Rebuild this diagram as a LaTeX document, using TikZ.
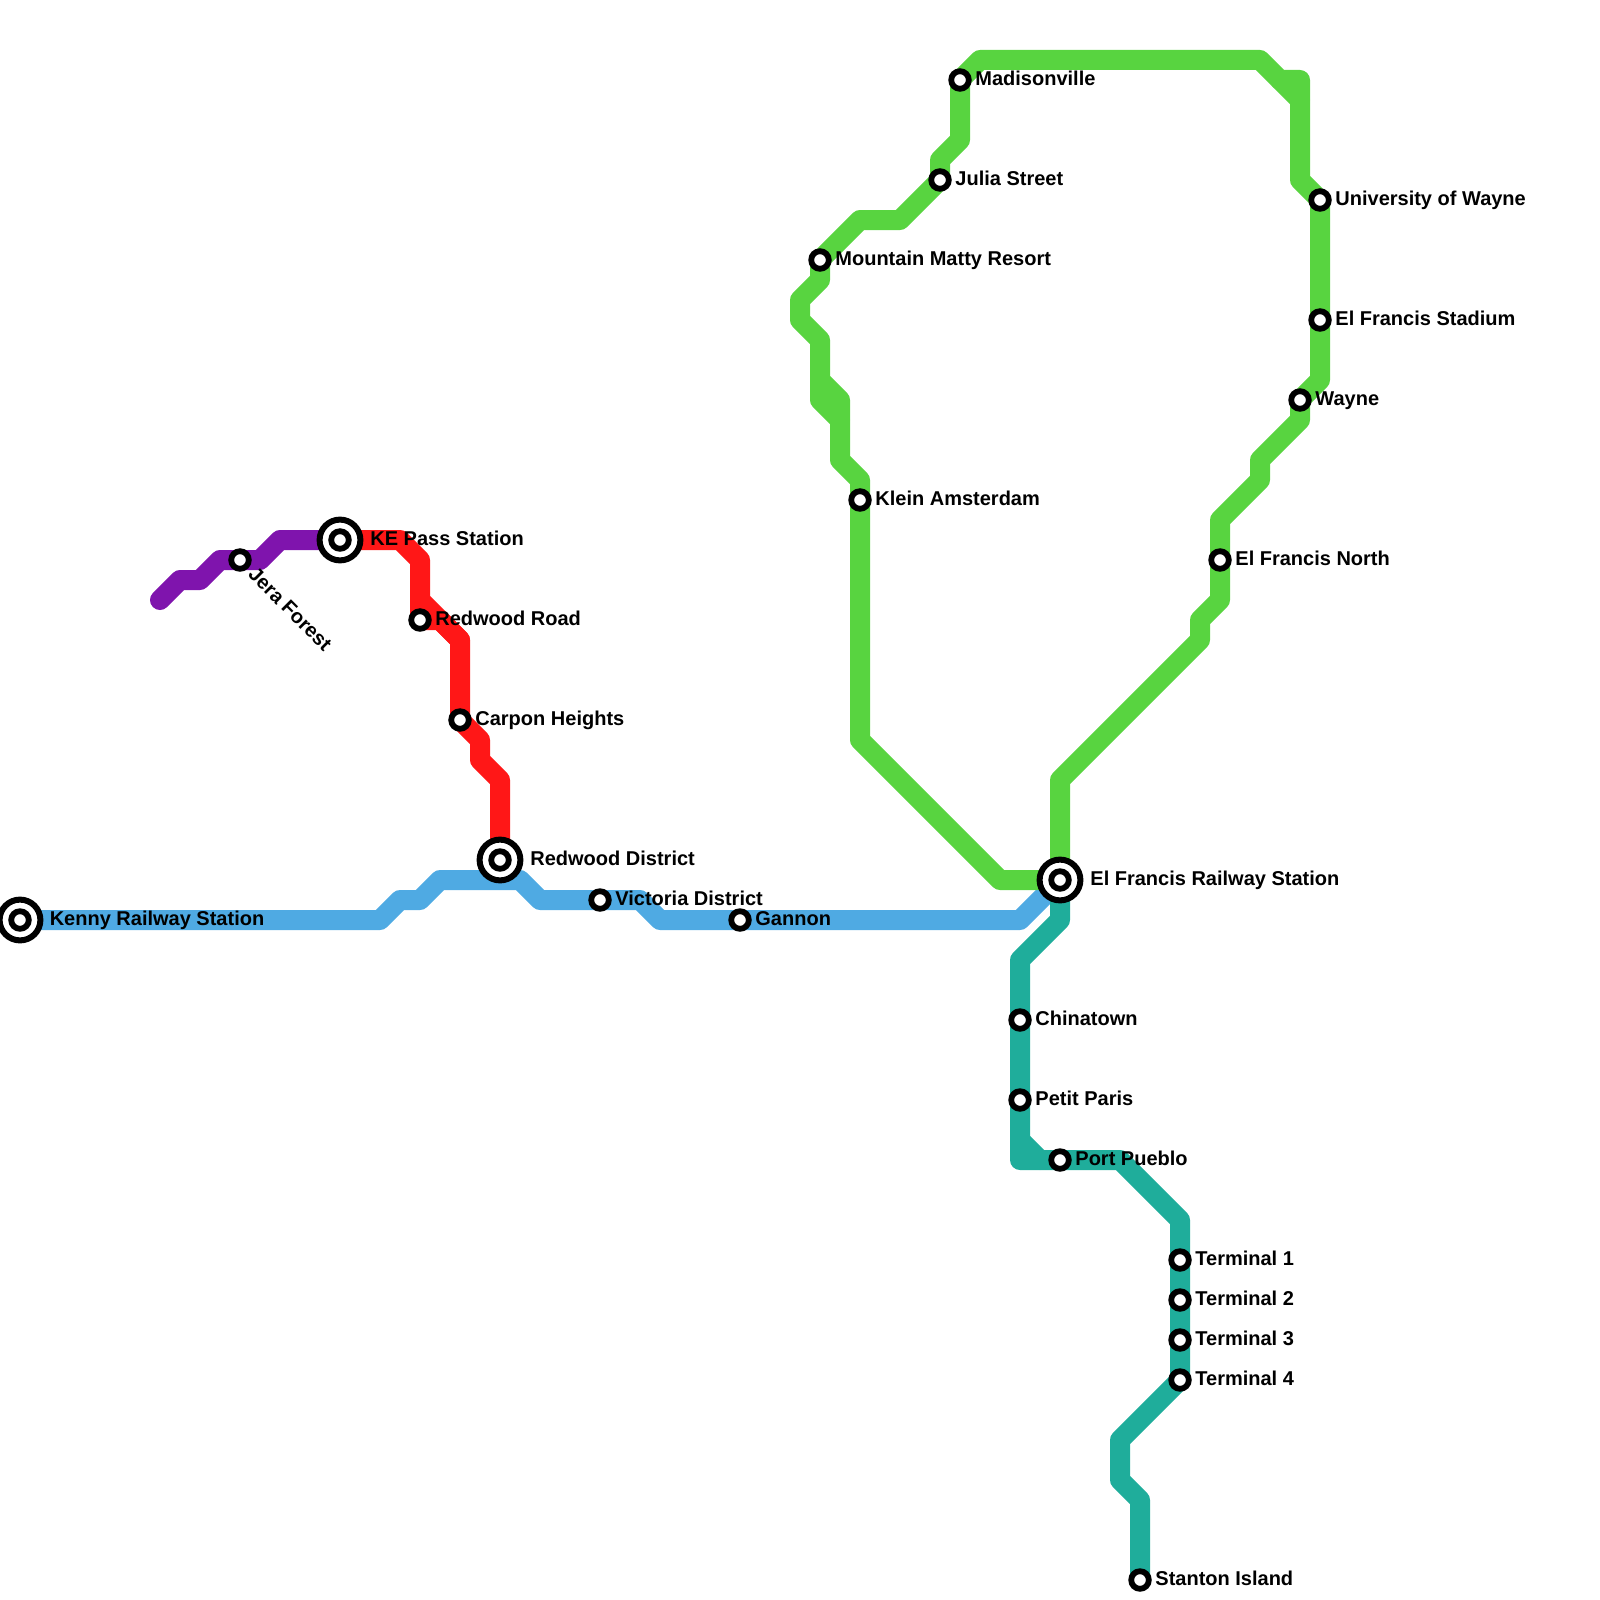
\documentclass[tikz,border=0pt]{standalone}
\usepackage{fontspec}
\setmainfont{Liberation Sans}
\usetikzlibrary{backgrounds}

\definecolor{purpleln}{HTML}{7F14AD}
\definecolor{redln}{HTML}{FF1717}
\definecolor{blueln}{HTML}{4FAAE3}
\definecolor{greenln}{HTML}{58D440}
\definecolor{tealln}{HTML}{1FAD9B}

\begin{document}
\begin{tikzpicture}[
    x=10pt, y=-10pt,
    stn/.style  = {circle, draw=black, line width=2.9pt, fill=white, minimum size=8.8pt, inner sep=0pt},
    hub/.style  = {stn, line width=3pt, minimum size=20.4pt},
    lab/.style  = {anchor=base west, inner sep=0pt, font=\bfseries\fontsize{10pt}{12pt}\selectfont},
    route/.style = {line width=10pt, line join=round, line cap=round}
  ]

  \useasboundingbox (0,0) rectangle (80,80);

  % --- interchange stations ---
  \node[hub] (kenny)   at (1,46)  {};
  \node[stn] (kennyin) at (1,46)  {};
  \node[hub] (kepass)   at (17,27) {};
  \node[stn] (kepassin) at (17,27) {};
  \node[hub] (rwdist)   at (25,43) {};
  \node[stn] (rwdistin) at (25,43) {};
  \node[hub] (efrail)   at (53,44) {};
  \node[stn] (efrailin) at (53,44) {};

  % --- plain stations ---
  \node[stn] (jera)    at (12,28) {};
  \node[stn] (rwroad)  at (21,31) {};
  \node[stn] (carpon)  at (23,36) {};
  \node[stn] (victoria) at (30,45) {};
  \node[stn] (gannon)  at (37,46) {};
  \node[stn] (klein)   at (43,25) {};
  \node[stn] (mountain) at (41,13) {};
  \node[stn] (julia)   at (47,9)  {};
  \node[stn] (madison) at (48,4)  {};
  \node[stn] (univ)    at (66,10) {};
  \node[stn] (stadium) at (66,16) {};
  \node[stn] (wayne)   at (65,20) {};
  \node[stn] (efnorth) at (61,28) {};
  \node[stn] (china)   at (51,51) {};
  \node[stn] (petit)   at (51,55) {};
  \node[stn] (pueblo)  at (53,58) {};
  \node[stn] (term1)   at (59,63) {};
  \node[stn] (term2)   at (59,65) {};
  \node[stn] (term3)   at (59,67) {};
  \node[stn] (term4)   at (59,69) {};
  \node[stn] (stanton) at (57,79) {};

  % --- labels ---
  \node[lab] (kennylab)    at (2.47,46.26)  {Kenny Railway Station};
  \node[lab] (kepasslab)   at (18.5,27.26)  {KE Pass Station};
  \node[lab] (rwdistlab)   at (26.5,43.26)  {Redwood District};
  \node[lab] (efraillab)   at (54.5,44.26)  {El Francis Railway Station};
  \node[lab, rotate=-45] (jeralab) at (12.35,28.78) {Jera Forest};
  \node[lab] (rwroadlab)   at (21.75,31.26) {Redwood Road};
  \node[lab] (carponlab)   at (23.75,36.26) {Carpon Heights};
  \node[lab] (victorialab) at (30.75,45.26) {Victoria District};
  \node[lab] (gannonlab)   at (37.75,46.26) {Gannon};
  \node[lab] (kleinlab)    at (43.75,25.26) {Klein Amsterdam};
  \node[lab] (mountainlab) at (41.75,13.26) {Mountain Matty Resort};
  \node[lab] (julialab)    at (47.75,9.26)  {Julia Street};
  \node[lab] (madisonlab)  at (48.75,4.26)  {Madisonville};
  \node[lab] (univlab)     at (66.75,10.26) {University of Wayne};
  \node[lab] (stadiumlab)  at (66.75,16.26) {El Francis Stadium};
  \node[lab] (waynelab)    at (65.75,20.26) {Wayne};
  \node[lab] (efnorthlab)  at (61.75,28.26) {El Francis North};
  \node[lab] (chinalab)    at (51.75,51.26) {Chinatown};
  \node[lab] (petitlab)    at (51.75,55.26) {Petit Paris};
  \node[lab] (pueblolab)   at (53.75,58.26) {Port Pueblo};
  \node[lab] (term1lab)    at (59.75,63.26) {Terminal 1};
  \node[lab] (term2lab)    at (59.75,65.26) {Terminal 2};
  \node[lab] (term3lab)    at (59.75,67.26) {Terminal 3};
  \node[lab] (term4lab)    at (59.75,69.26) {Terminal 4};
  \node[lab] (stantonlab)  at (57.75,79.26) {Stanton Island};

  % --- forks, where a line doubles up for a short stretch ---
  \coordinate (redfork)  at (21,30);
  \coordinate (redjoin)  at (23,32);
  \coordinate (grnfork)  at (41,19);
  \coordinate (grnjoin)  at (42,21);
  \coordinate (topfork)  at (64,4);
  \coordinate (topjoin)  at (65,5);
  \coordinate (tealfork) at (51,57);
  \coordinate (tealjoin) at (52,58);

  % --- lines, under the stations ---
  \begin{scope}[on background layer]
    \draw[route, purpleln] (8,30) -- (9,29) -- (10,29) -- (11,28) -- (jera.center)
      -- (13,28) -- (14,27) -- (kepass.center);

    \draw[route, redln] (kepass.center) -- (20,27) -- (21,28) -- (redfork)
      -- (redjoin) -- (carpon.center) -- (24,37) -- (24,38) -- (25,39) -- (rwdist.center);
    \draw[route, redln] (redfork) -- (rwroad.center) -- (22,31) -- (redjoin);

    \draw[route, blueln] (kenny.center) -- (19,46) -- (20,45) -- (21,45) -- (22,44)
      -- (26,44) -- (27,45) -- (victoria.center) -- (32,45) -- (33,46)
      -- (gannon.center) -- (51,46) -- (efrail.center);

    \draw[route, greenln] (efrail.center) -- (50,44) -- (43,37) -- (klein.center)
      -- (43,24) -- (42,23) -- (42,20) -- (grnfork) -- (41,17) -- (40,16) -- (40,15)
      -- (41,14) -- (mountain.center) -- (43,11) -- (45,11) -- (julia.center)
      -- (47,8) -- (48,7) -- (madison.center) -- (49,3) -- (63,3) -- (topfork)
      -- (65,4) -- (65,9) -- (univ.center) -- (stadium.center) -- (66,19)
      -- (wayne.center) -- (65,21) -- (63,23) -- (63,24) -- (61,26)
      -- (efnorth.center) -- (61,30) -- (60,31) -- (60,32) -- (53,39) -- (efrail.center);
    \draw[route, greenln] (grnfork) -- (41,20) -- (grnjoin);
    \draw[route, greenln] (topfork) -- (topjoin);

    \draw[route, tealln] (efrail.center) -- (53,46) -- (51,48) -- (china.center)
      -- (petit.center) -- (51,58) -- (pueblo.center) -- (56,58) -- (59,61)
      -- (term1.center) -- (term2.center) -- (term3.center) -- (term4.center)
      -- (56,72) -- (56,74) -- (57,75) -- (stanton.center);
    \draw[route, tealln] (tealfork) -- (tealjoin);
  \end{scope}

\end{tikzpicture}
\end{document}
